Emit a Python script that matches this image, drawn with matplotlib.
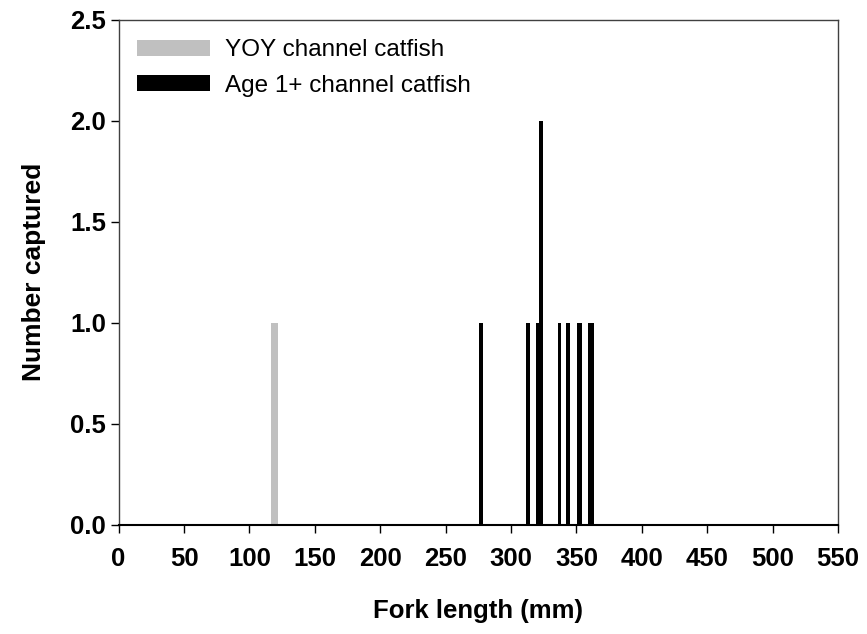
import matplotlib
matplotlib.use("Agg")
import matplotlib.pyplot as plt

plt.rcParams['font.family'] = ['Liberation Sans', 'DejaVu Sans']

# fork lengths (mm) and number of fish caught at each length
yoy_length = [119]
yoy_count = [1]
adult_length = [277, 313, 320, 323, 337, 343, 344, 352, 353, 360, 362]
adult_count = [1, 1, 1, 2, 1, 1, 1, 1, 1, 1, 1]

xticks = list(range(0, 551, 50))
yticks = [0.0, 0.5, 1.0, 1.5, 2.0, 2.5]

fig = plt.figure(figsize=(8.67, 6.34), dpi=100)
ax = fig.add_axes([0.1368, 0.1724, 0.8298, 0.7961])

ax.bar(yoy_length, yoy_count, width=5, color='#c0c0c0', label='YOY channel catfish')
ax.bar(adult_length, adult_count, width=2.5, color='black', label='Age 1+ channel catfish')

ax.set_xlim(0, 550)
ax.set_ylim(0, 2.5)
ax.set_xticks(xticks)
ax.set_yticks(yticks)
ax.set_yticklabels(['%.1f' % v for v in yticks])

for lab in ax.get_xticklabels() + ax.get_yticklabels():
    lab.set_fontweight('bold')
    lab.set_fontsize(18.5)

ax.tick_params(direction='out', length=6, width=1, colors='black')
ax.tick_params(axis='y', pad=3)
ax.tick_params(axis='x', pad=10)
for s in ['left', 'top', 'right']:
    ax.spines[s].set_linewidth(1)
    ax.spines[s].set_color('#404040')
ax.spines['bottom'].set_linewidth(1.5)

ax.set_xlabel('Fork length (mm)', fontsize=18.5, fontweight='bold', labelpad=20)
ax.set_ylabel('Number captured', fontsize=19, fontweight='bold', labelpad=17)

ax.legend(loc='upper left', bbox_to_anchor=(-0.001, 1.0), frameon=False,
          fontsize=17.5, handlelength=3.0, handleheight=0.65, handletextpad=0.6,
          labelspacing=0.55, borderaxespad=0.4)

fig.savefig('out.png', dpi=100)
